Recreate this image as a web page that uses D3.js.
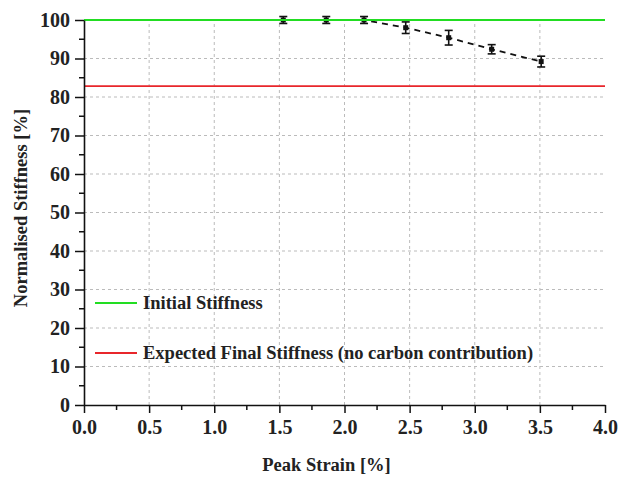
<!DOCTYPE html>
<html lang="en">
<head>
    <meta charset="UTF-8">
    <title>Normalised Stiffness vs Peak Strain</title>
    <script src="https://d3js.org/d3.v7.min.js"></script>
    <style>
        body { margin: 0; background: #fff; }
        text { font-family: "Liberation Serif", "DejaVu Serif", serif; font-weight: bold; fill: #222; }
    </style>
</head>
<body>
    <svg id="chart"></svg>

    <script>
        // Data
        const strain = [1.53, 1.86, 2.15, 2.47, 2.80, 3.13, 3.51];
        const stiffness = [100, 100, 100, 98.0, 95.4, 92.4, 89.2];
        const errors = [0.9, 0.9, 0.9, 1.5, 1.9, 1.2, 1.4];
        const initialStiffness = 100;
        const expectedFinal = 82.8;
        const xTicks = [0, 0.5, 1, 1.5, 2, 2.5, 3, 3.5, 4];
        const yTicks = [0, 10, 20, 30, 40, 50, 60, 70, 80, 90, 100];

        const width = 619;
        const height = 477;
        const margin = { top: 20, right: 14, bottom: 72, left: 84 };
        const serif = '"Liberation Serif", "DejaVu Serif", serif';

        const svg = d3.select("#chart")
            .attr("width", width)
            .attr("height", height);

        const x = d3.scaleLinear().domain([0, 4]).range([margin.left, width - margin.right]);
        const y = d3.scaleLinear().domain([0, 100]).range([height - margin.bottom, margin.top]);

        // grid
        svg.append("g")
            .selectAll("line")
            .data(xTicks.slice(1, -1))
            .join("line")
            .attr("x1", d => x(d)).attr("x2", d => x(d))
            .attr("y1", y(0)).attr("y2", y(100))
            .attr("stroke", "#bbb").attr("stroke-dasharray", "3,3");

        svg.append("g")
            .selectAll("line")
            .data(yTicks.slice(1, -1))
            .join("line")
            .attr("x1", x(0)).attr("x2", x(4))
            .attr("y1", d => y(d)).attr("y2", d => y(d))
            .attr("stroke", "#bbb").attr("stroke-dasharray", "3,3");

        // reference lines
        svg.append("line")
            .attr("x1", x(0)).attr("x2", x(4))
            .attr("y1", y(expectedFinal)).attr("y2", y(expectedFinal))
            .attr("stroke", "#e8262b").attr("stroke-width", 1.8);

        // dashed trend + error bars
        const pts = strain.map((s, i) => ({ s, v: stiffness[i], e: errors[i] }));

        svg.append("path")
            .datum(pts)
            .attr("fill", "none")
            .attr("stroke", "#111")
            .attr("stroke-width", 1.8)
            .attr("stroke-dasharray", "6,5")
            .attr("d", d3.line().x(d => x(d.s)).y(d => y(d.v)));

        const eb = svg.append("g").attr("stroke", "#111").attr("stroke-width", 1.6);
        eb.selectAll(".stem").data(pts).join("line")
            .attr("x1", d => x(d.s)).attr("x2", d => x(d.s))
            .attr("y1", d => y(d.v - d.e)).attr("y2", d => y(d.v + d.e));
        eb.selectAll(".cap-lo").data(pts).join("line")
            .attr("x1", d => x(d.s) - 4).attr("x2", d => x(d.s) + 4)
            .attr("y1", d => y(d.v - d.e)).attr("y2", d => y(d.v - d.e));
        eb.selectAll(".cap-hi").data(pts).join("line")
            .attr("x1", d => x(d.s) - 4).attr("x2", d => x(d.s) + 4)
            .attr("y1", d => y(d.v + d.e)).attr("y2", d => y(d.v + d.e));

        svg.append("g").selectAll("rect").data(pts).join("rect")
            .attr("x", d => x(d.s) - 2.5).attr("y", d => y(d.v) - 2.5)
            .attr("width", 5).attr("height", 5)
            .attr("fill", "#111");

        svg.append("line")
            .attr("x1", x(0)).attr("x2", x(4))
            .attr("y1", y(initialStiffness)).attr("y2", y(initialStiffness))
            .attr("stroke", "#22dd22").attr("stroke-width", 1.8);

        // axes
        const xAxis = svg.append("g")
            .attr("transform", `translate(0,${y(0)})`)
            .call(d3.axisBottom(x).tickValues(xTicks).tickFormat(d3.format(".1f")).tickSize(8).tickSizeOuter(0));
        xAxis.append("g").selectAll("line")
            .data(d3.range(0.25, 4, 0.5)).join("line")
            .attr("x1", d => x(d)).attr("x2", d => x(d))
            .attr("y1", 0).attr("y2", 5).attr("stroke", "#111").attr("stroke-width", 1.5);

        const yAxis = svg.append("g")
            .attr("transform", `translate(${x(0)},0)`)
            .call(d3.axisLeft(y).tickValues(yTicks).tickSize(9).tickSizeOuter(0));
        yAxis.append("g").selectAll("line")
            .data(d3.range(5, 100, 10)).join("line")
            .attr("x1", -5).attr("x2", 0)
            .attr("y1", d => y(d)).attr("y2", d => y(d))
            .attr("stroke", "#111").attr("stroke-width", 1.5);

        [xAxis, yAxis].forEach(a => {
            a.attr("font-family", serif).attr("font-size", 20);
            a.select(".domain").attr("stroke", "#111").attr("stroke-width", 1.6);
            a.selectAll(".tick line").attr("stroke", "#111").attr("stroke-width", 1.5);
            a.selectAll(".tick text")
                .style("font-family", serif)
                .style("font-size", "20px")
                .style("font-weight", "bold")
                .attr("fill", "#222");
        });
        xAxis.selectAll(".tick text").attr("y", 14).attr("dy", "0.75em");
        yAxis.selectAll(".tick text").attr("x", -14);

        // axis titles
        svg.append("text")
            .style("font-size", "18.5px")
            .attr("x", (x(0) + x(4)) / 2 - 18)
            .attr("y", 471)
            .attr("text-anchor", "middle")
            .text("Peak Strain [%]");

        svg.append("text")
            .style("font-size", "18.5px")
            .attr("transform", `translate(27,208) rotate(-90)`)
            .attr("text-anchor", "middle")
            .text("Normalised Stiffness [%]");

        // legend
        const legend = [
            { label: "Initial Stiffness", color: "#22dd22", yPos: 303 },
            { label: "Expected Final Stiffness (no carbon contribution)", color: "#e8262b", yPos: 353 }
        ];
        const lg = svg.append("g").selectAll("g").data(legend).join("g");
        lg.append("line")
            .attr("x1", 95).attr("x2", 137)
            .attr("y1", d => d.yPos).attr("y2", d => d.yPos)
            .attr("stroke", d => d.color).attr("stroke-width", 1.8);
        lg.append("text")
            .style("font-size", "18.5px")
            .attr("x", 143)
            .attr("y", d => d.yPos + 6)
            .text(d => d.label);
    </script>
</body>
</html>
